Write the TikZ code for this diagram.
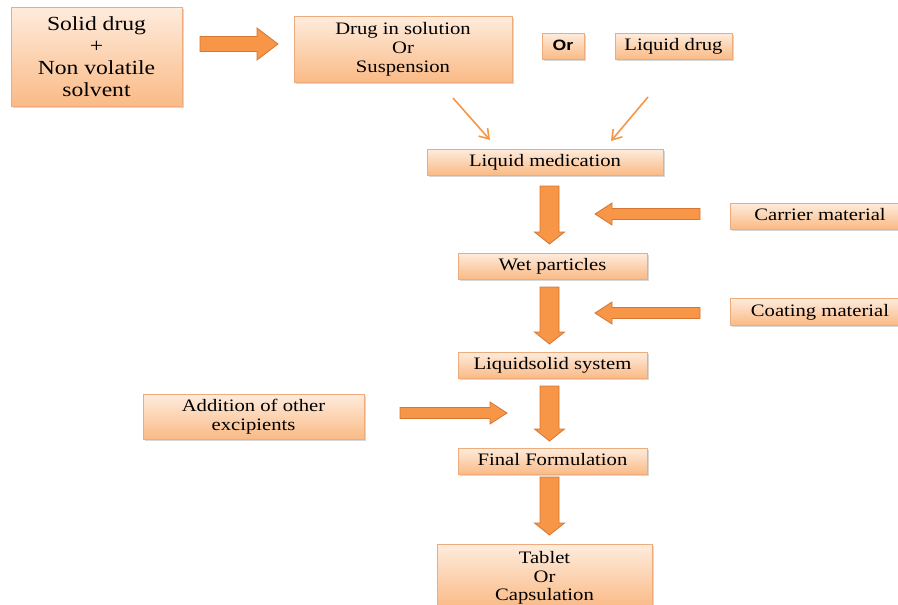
\documentclass[tikz,border=0pt]{standalone}
\usepackage{fontspec}
\setmainfont{Liberation Serif}[FakeStretch=1.18]
\newfontfamily\orfont{Liberation Sans}[FakeStretch=1.18]
\usetikzlibrary{shadows,arrows.meta}
\definecolor{boxtop}{RGB}{254,236,221}
\definecolor{boxbot}{RGB}{250,186,134}
\definecolor{boxline}{RGB}{238,172,124}
\definecolor{arrfill}{RGB}{247,150,70}
\definecolor{arrline}{RGB}{214,118,52}
\tikzset{
  x=1pt, y=-1pt,
  flowbox/.style={rectangle, top color=boxtop, bottom color=boxbot, draw=boxline,
    line width=0.7pt, inner sep=0pt, align=center,
    font=\fontsize{17.5}{19}\selectfont,
    drop shadow={shadow xshift=1.5pt, shadow yshift=-1.5pt, opacity=0.25, fill=black!60}},
  onebox/.style={flowbox, text height=12pt, text depth=3pt},
  fatarrow/.style={fill=arrfill, draw=arrline, line width=0.8pt, line join=miter},
  thinarrow/.style={draw=arrfill, line width=1.6pt, -{Straight Barb[length=9pt,width=12pt,line width=1.6pt]}},
}
% #1 x, #2 y (tail centre), #3 rotation, #4 length, #5 half shaft, #6 half head, #7 head length
\newcommand\fatarr[7]{%
  \draw[fatarrow, shift={(#1,#2)}, rotate=#3] (0,-#5) -- ({#4-#7},-#5) -- ({#4-#7},-#6) -- (#4,0)
    -- ({#4-#7},#6) -- ({#4-#7},#5) -- (0,#5) -- cycle;}
\begin{document}
\begin{tikzpicture}
\useasboundingbox (0,0) rectangle (898,605);
\clip (0,0) rectangle (898,605);
\fill[white] (0,0) rectangle (898,605);

\node[flowbox, minimum width=171, minimum height=99, font=\fontsize{20}{22}\selectfont] (solid) at (96.5,56.5)
  {Solid drug\\+\\Non volatile\\solvent};
\node[flowbox, minimum width=218, minimum height=66] (sol) at (403,49) {Drug in solution\\Or\\Suspension};
\node[onebox, minimum width=42, minimum height=26, font=\orfont\bfseries\fontsize{15}{16}\selectfont] (or) at (563,46) {Or};
\node[onebox, minimum width=117, minimum height=26] (liq) at (673.5,46) {Liquid drug};
\node[onebox, minimum width=236, minimum height=26] (med) at (545,162) {Liquid medication};
\node[onebox, minimum width=180, minimum height=26] (carrier) at (820,216) {Carrier material};
\node[onebox, minimum width=189, minimum height=26] (wet) at (552.5,266) {Wet particles};
\node[onebox, minimum width=180, minimum height=27] (coat) at (820,311.5) {Coating material};
\node[onebox, minimum width=189, minimum height=26] (ls) at (552.5,365) {Liquidsolid system};
\node[flowbox, minimum width=221, minimum height=45] (add) at (253.5,416.5) {Addition of other\\excipients};
\node[onebox, minimum width=189, minimum height=26] (final) at (552.5,461) {Final Formulation};
\node[flowbox, minimum width=215, minimum height=64, text depth=0pt, font=\fontsize{17.5}{18.5}\selectfont] (tab) at (544.5,576) {Tablet\\Or\\Capsulation};

% fat arrows
\fatarr{200}{44}{0}{78}{7.5}{16}{21}
\fatarr{549.5}{186}{-90}{58}{9.5}{15}{12}
\fatarr{549.5}{287}{-90}{57}{9.5}{15}{12}
\fatarr{549.5}{386}{-90}{55}{9.5}{15}{12}
\fatarr{549.5}{477}{-90}{58}{9.5}{15}{12}
\fatarr{700}{214}{180}{105}{5.5}{11}{17}
\fatarr{700}{313}{180}{105}{5.5}{11}{17}
\fatarr{400}{413}{0}{107}{5.5}{11}{17}

% thin arrows
\coordinate (t1) at (453,98);
\coordinate (h1) at (490,140);
\coordinate (t2) at (648,97);
\coordinate (h2) at (611,141);
\draw[thinarrow] (t1) -- (h1);
\draw[thinarrow] (t2) -- (h2);
\end{tikzpicture}
\end{document}
